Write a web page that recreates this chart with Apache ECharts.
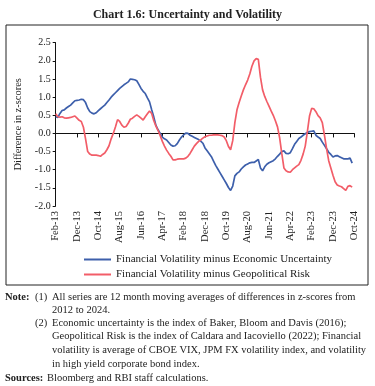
<!DOCTYPE html>
<html style="height: 100%">
<head>
  <meta charset="utf-8">
</head>
<body style="height: 100%; margin: 0; background: #fff">
  <div id="container" style="width: 375px; height: 386px"></div>
  <script src="https://cdn.jsdelivr.net/npm/echarts@6/dist/echarts.min.js"></script>
  <script type="text/javascript">
    // monthly months Feb-13 .. Oct-24
    var monthNames = ['Jan','Feb','Mar','Apr','May','Jun','Jul','Aug','Sep','Oct','Nov','Dec'];
    var months = [];
    for (var i = 0; i <= 140; i++) {
      var k = i + 1;
      months.push(monthNames[k % 12] + '-' + (13 + Math.floor(k / 12)));
    }

    // Financial Volatility minus Economic Uncertainty (Feb-13 .. Sep-24)
    var econUnc = [
      0.46, 0.44, 0.55, 0.63, 0.65, 0.70, 0.74, 0.78, 0.84, 0.90,
      0.91, 0.92, 0.94, 0.93, 0.85, 0.70, 0.60, 0.56, 0.54, 0.57,
      0.63, 0.68, 0.73, 0.78, 0.85, 0.92, 1.00, 1.06, 1.12, 1.18,
      1.24, 1.29, 1.34, 1.38, 1.42, 1.50, 1.49, 1.48, 1.45, 1.35,
      1.24, 1.16, 1.10, 0.98, 0.87, 0.65, 0.45, 0.22, 0.10, 0.00,
      -0.10, -0.15, -0.18, -0.25, -0.32, -0.35, -0.34, -0.28, -0.18, -0.10,
      -0.04, 0.01, 0.00, -0.05, -0.08, -0.11, -0.14, -0.17, -0.21, -0.27,
      -0.40, -0.48, -0.56, -0.64, -0.76, -0.88, -0.98, -1.08, -1.18, -1.28,
      -1.38, -1.49, -1.57, -1.45, -1.17, -1.10, -1.06, -0.98, -0.92, -0.87,
      -0.84, -0.81, -0.80, -0.80, -0.76, -0.72, -0.95, -1.03, -0.92, -0.85,
      -0.81, -0.78, -0.75, -0.70, -0.63, -0.57, -0.50, -0.48, -0.55, -0.56,
      -0.53, -0.42, -0.30, -0.22, -0.14, -0.10, -0.05, -0.01, 0.03, 0.05,
      0.06, 0.07, -0.05, -0.10, -0.14, -0.24, -0.33, -0.42, -0.52, -0.58,
      -0.65, -0.62, -0.61, -0.64, -0.67, -0.70, -0.70, -0.70, -0.68, -0.82
    ];

    // Financial Volatility minus Geopolitical Risk (Feb-13 .. Sep-24)
    var geoRisk = [
      0.54, 0.46, 0.45, 0.46, 0.43, 0.42, 0.43, 0.44, 0.46, 0.48,
      0.42, 0.36, 0.33, 0.17, -0.15, -0.50, -0.57, -0.60, -0.60, -0.60,
      -0.61, -0.63, -0.58, -0.54, -0.45, -0.34, -0.15, 0.00, 0.18, 0.38,
      0.33, 0.23, 0.17, 0.19, 0.28, 0.39, 0.42, 0.47, 0.51, 0.47,
      0.42, 0.37, 0.46, 0.54, 0.62, 0.55, 0.35, 0.20, 0.08, -0.06,
      -0.22, -0.35, -0.46, -0.55, -0.63, -0.73, -0.73, -0.71, -0.70, -0.70,
      -0.70, -0.68, -0.63, -0.55, -0.45, -0.35, -0.28, -0.22, -0.18, -0.13,
      -0.09, -0.07, -0.05, -0.05, -0.04, -0.04, -0.04, -0.05, -0.06, -0.10,
      -0.20, -0.36, -0.45, -0.20, 0.30, 0.65, 0.85, 1.03, 1.20, 1.34,
      1.47, 1.64, 1.85, 2.00, 2.06, 2.04, 1.55, 1.20, 1.02, 0.88,
      0.75, 0.62, 0.50, 0.35, 0.18, -0.12, -0.55, -0.95, -1.03, -1.06,
      -1.07, -1.00, -0.95, -0.90, -0.86, -0.74, -0.57, -0.35, 0.05, 0.48,
      0.69, 0.68, 0.60, 0.49, 0.43, 0.30, -0.05, -0.42, -0.75, -0.95,
      -1.15, -1.33, -1.42, -1.45, -1.47, -1.52, -1.57, -1.46, -1.44, -1.48
    ];

    var seriesNames = ['Financial Volatility minus Economic Uncertainty',
                       'Financial Volatility minus Geopolitical Risk'];
    var colors = ['#3d5fab', '#f25d68'];

    var serif = 'Liberation Serif';

    var dom = document.getElementById('container');
    var myChart = echarts.init(dom, null, { renderer: 'canvas' });

    var notes = [
      { x: 5, y: 297, text: 'Note:', bold: true },
      { x: 35, y: 297, text: '(1)' },
      { x: 52, y: 297, text: 'All series are 12 month moving averages of differences in z-scores from' },
      { x: 52, y: 310, text: '2012 to 2024.' },
      { x: 35, y: 323, text: '(2)' },
      { x: 52, y: 323, text: 'Economic uncertainty is the index of Baker, Bloom and Davis (2016);' },
      { x: 52, y: 336, text: 'Geopolitical Risk is the index of Caldara and Iacoviello (2022); Financial' },
      { x: 52, y: 350, text: 'volatility is average of CBOE VIX, JPM FX volatility index, and volatility' },
      { x: 52, y: 364, text: 'in high yield corporate bond index.' },
      { x: 5, y: 378, text: 'Sources:', bold: true },
      { x: 47, y: 378, text: 'Bloomberg and RBI staff calculations.' }
    ];

    var graphics = [{
      type: 'rect',
      shape: { x: 6, y: 25, width: 362, height: 260 },
      style: { fill: 'none', stroke: '#222', lineWidth: 1 }
    }];
    notes.forEach(function (n) {
      graphics.push({
        type: 'text',
        x: n.x, y: n.y,
        style: {
          text: n.text,
          fontFamily: serif,
          fontSize: 10.5,
          fontWeight: n.bold ? 'bold' : 'normal',
          fill: '#222',
          textVerticalAlign: 'middle'
        }
      });
    });

    var option = {
      animation: false,
      title: {
        text: 'Chart 1.6: Uncertainty and Volatility',
        left: 'center',
        top: 4,
        textStyle: { fontFamily: serif, fontSize: 12, fontWeight: 'bold', color: '#222' }
      },
      grid: { left: 55.7, right: 20.7, top: 42.7, bottom: 180 },
      legend: {
        orient: 'vertical',
        left: 79,
        top: 249,
        itemWidth: 27,
        itemHeight: 2,
        itemGap: 4,
        icon: 'rect',
        data: seriesNames,
        textStyle: { fontFamily: serif, fontSize: 11, color: '#222' }
      },
      xAxis: [{
        type: 'category',
        data: months,
        boundaryGap: false,
        position: 'bottom',
        axisLine: { show: false, onZero: false },
        axisTick: { show: false },
        axisLabel: {
          interval: 9,
          rotate: 90,
          margin: 5,
          fontFamily: serif,
          fontSize: 10.5,
          color: '#222'
        },
        splitLine: { show: false }
      }, {
        type: 'category',
        data: months,
        boundaryGap: false,
        position: 'bottom',
        axisLine: { show: true, onZero: true, lineStyle: { color: '#111', width: 1 } },
        axisTick: { show: true, interval: 9, length: 4, lineStyle: { color: '#111' } },
        axisLabel: { show: false },
        splitLine: { show: false }
      }],
      yAxis: {
        type: 'value',
        min: -2,
        max: 2.5,
        interval: 0.5,
        name: 'Difference in z-scores',
        nameLocation: 'middle',
        nameGap: 31,
        nameTextStyle: { fontFamily: serif, fontSize: 10.5, color: '#222' },
        axisLine: { show: true, lineStyle: { color: '#111' } },
        axisTick: { show: true, length: 3, lineStyle: { color: '#111' } },
        axisLabel: {
          fontFamily: serif, fontSize: 10, color: '#222', margin: 5,
          formatter: function (v) { return v.toFixed(1); }
        },
        splitLine: { show: false }
      },
      series: [{
        name: seriesNames[0],
        type: 'line',
        data: econUnc,
        symbol: 'none',
        lineStyle: { color: colors[0], width: 1.7 },
        itemStyle: { color: colors[0] }
      }, {
        name: seriesNames[1],
        type: 'line',
        data: geoRisk,
        symbol: 'none',
        lineStyle: { color: colors[1], width: 1.7 },
        itemStyle: { color: colors[1] }
      }],
      graphic: graphics
    };

    myChart.setOption(option);
  </script>
</body>
</html>
